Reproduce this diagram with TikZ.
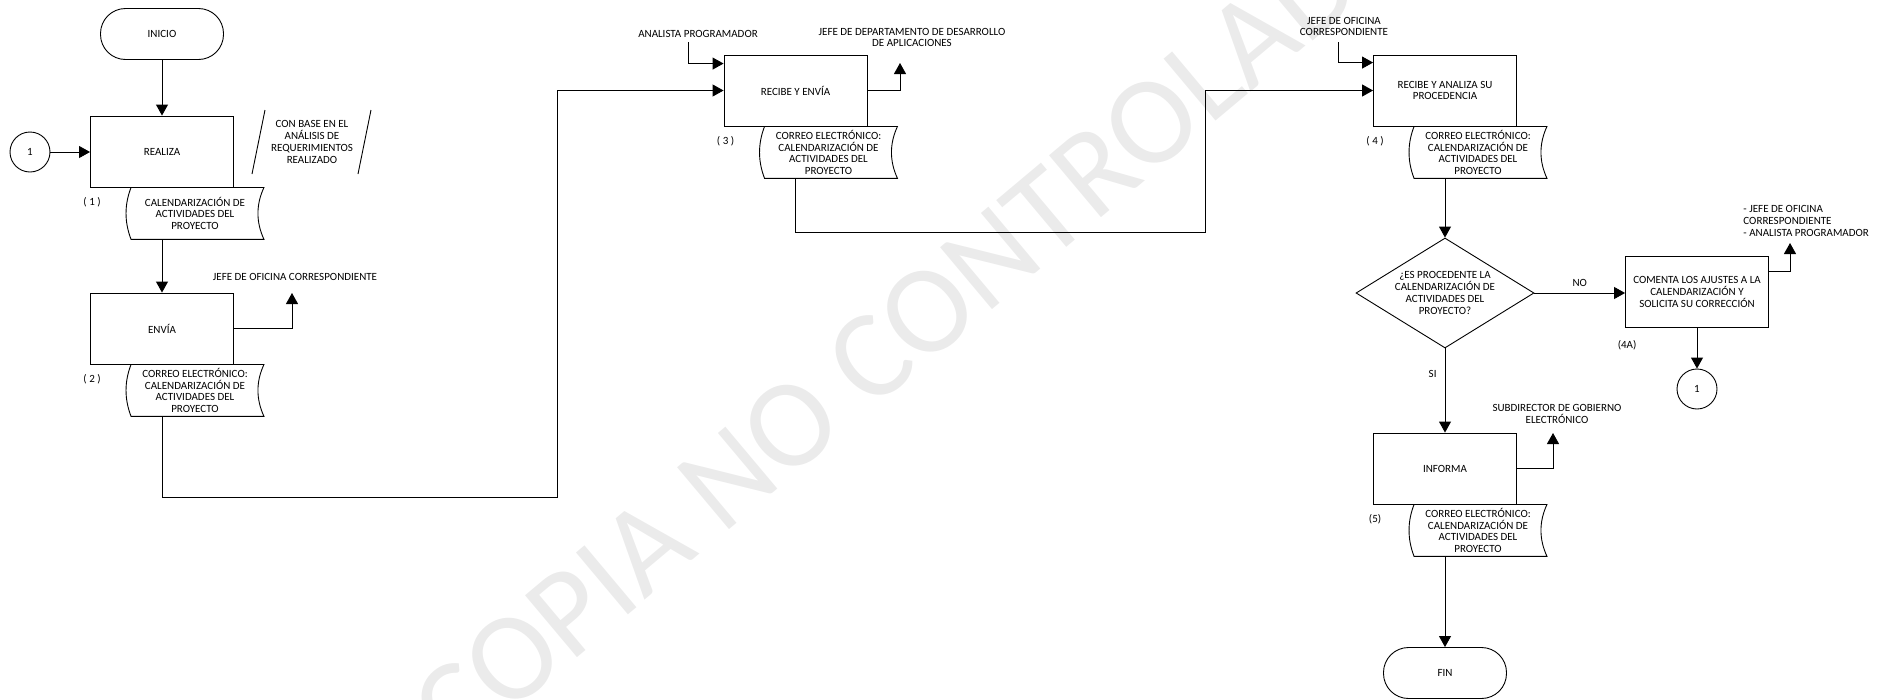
\documentclass[tikz,border=0pt]{standalone}
\usepackage{fontspec}
\setmainfont{Carlito}
\usetikzlibrary{arrows.meta,positioning,shapes.geometric}
\tikzset{
  proc/.style={draw, minimum width=143pt, minimum height=71pt, align=center, inner sep=2pt},
  term/.style={draw, rounded corners=25pt, minimum width=123pt, minimum height=51pt},
  conn/.style={draw, circle, minimum size=40pt, inner sep=0pt},
  decis/.style={draw, diamond, shape aspect=1.6, minimum width=178pt, minimum height=110pt, inner sep=0pt, align=center},
  docbox/.style={minimum width=137pt, minimum height=51pt, align=center, inner sep=0pt},
  tag/.style={align=center, inner sep=0pt},
  flow/.style={-{Triangle[length=11pt,width=12pt]}}
}
\newcommand{\docshape}[1]{%
  \draw ([xshift=5pt]#1.north west) -- (#1.north east)
    .. controls ([xshift=-8pt,yshift=-17.3pt]#1.north east) and ([xshift=-8pt,yshift=17.3pt]#1.south east) .. (#1.south east)
    -- ([xshift=5pt]#1.south west)
    .. controls ([xshift=-1.7pt,yshift=17.3pt]#1.south west) and ([xshift=-1.7pt,yshift=-17.3pt]#1.north west) .. cycle;}

\begin{document}
\begin{tikzpicture}[x=1pt, y=-1pt, line width=0.9pt, font=\fontsize{11}{11.7}\selectfont]
  \useasboundingbox (0,0) rectangle (1887,699);
  \begin{scope}
    \clip (0,0) rectangle (1887,699);
    \node[text=black!8, rotate=40, font=\fontsize{126}{126}\selectfont] (marca) at (912,324) {COPIA NO CONTROLADA};
  \end{scope}

  \node[term] (inicio) at (162,34) {INICIO};
  \node[proc] (realiza) at (162,151.5) {REALIZA};
  \node[conn] (c1) at (30,152) {1};
  \node[tag] (base) at (312,142) {CON BASE EN EL\\ANÁLISIS DE\\REQUERIMIENTOS\\REALIZADO};
  \draw ([shift={(-47,-32)}]base.center) -- ++(-13,64);
  \draw ([shift={(59,-32)}]base.center) -- ++(-13,64);
  \node[docbox, below=0pt of realiza, xshift=33pt] (doc1) {CALENDARIZACIÓN DE\\ACTIVIDADES DEL\\PROYECTO};
  \docshape{doc1}
  \node[tag, xshift=2pt, yshift=-15pt] (n1) at (realiza.south west) {( 1 )};

  \node[proc] (envia) at (162,328.5) {ENVÍA};
  \node[tag] (lbl2) at (295,277) {JEFE DE OFICINA CORRESPONDIENTE};
  \coordinate (out2) at (292,293);
  \node[docbox, below=0pt of envia, xshift=33pt] (doc2) {CORREO ELECTRÓNICO:\\CALENDARIZACIÓN DE\\ACTIVIDADES DEL\\PROYECTO};
  \docshape{doc2}
  \node[tag, xshift=2pt, yshift=-15pt] (n2) at (envia.south west) {( 2 )};
  \coordinate (jog1) at (557,497);

  \node[proc] (recibe) at (795.5,90.5) {RECIBE Y ENVÍA};
  \node[tag] (analista) at (698,34) {ANALISTA PROGRAMADOR};
  \node[tag] (jdd) at (912,37.5) {JEFE DE DEPARTAMENTO DE DESARROLLO\\DE APLICACIONES};
  \coordinate (out3) at (900,63);
  \node[docbox, below=0pt of recibe, xshift=33pt] (doc3) {CORREO ELECTRÓNICO:\\CALENDARIZACIÓN DE\\ACTIVIDADES DEL\\PROYECTO};
  \docshape{doc3}
  \node[tag, xshift=2pt, yshift=-15pt] (n3) at (recibe.south west) {( 3 )};
  \coordinate (jog2) at (1205,232);

  \node[proc] (analiza) at (1445,90.5) {RECIBE Y ANALIZA SU\\PROCEDENCIA};
  \node[tag] (jefe4) at (1344,26.5) {JEFE DE OFICINA\\CORRESPONDIENTE};
  \node[docbox, below=0pt of analiza, xshift=33pt] (doc4) {CORREO ELECTRÓNICO:\\CALENDARIZACIÓN DE\\ACTIVIDADES DEL\\PROYECTO};
  \docshape{doc4}
  \node[tag, xshift=2pt, yshift=-15pt] (n4) at (analiza.south west) {( 4 )};

  \node[decis] (decis) at (1445,293) {¿ES PROCEDENTE LA\\CALENDARIZACIÓN DE\\ACTIVIDADES DEL\\PROYECTO?};
  \node[proc] (box4a) at (1697,292) {COMENTA LOS AJUSTES A LA\\CALENDARIZACIÓN Y\\SOLICITA SU CORRECCIÓN};
  \node[tag, anchor=west, align=left] (lbl4a) at (1743,221) {- JEFE DE OFICINA\\CORRESPONDIENTE\\- ANALISTA PROGRAMADOR};
  \coordinate (out4a) at (1790,243);
  \node[tag, xshift=2pt, yshift=-17pt] (n4a) at (box4a.south west) {(4A)};
  \node[conn] (c2) at (1697,389) {1};

  \node[proc] (informa) at (1445,468.5) {INFORMA};
  \node[tag] (subdir) at (1557,414) {SUBDIRECTOR DE GOBIERNO\\ELECTRÓNICO};
  \coordinate (out5) at (1553,433);
  \node[docbox, below=0pt of informa, xshift=33pt] (doc5) {CORREO ELECTRÓNICO:\\CALENDARIZACIÓN DE\\ACTIVIDADES DEL\\PROYECTO};
  \docshape{doc5}
  \node[tag, xshift=2pt, yshift=-15pt] (n5) at (informa.south west) {(5)};
  \node[term] (fin) at (1445,673) {FIN};

  \draw[flow] (inicio) -- (realiza);
  \draw[flow] (c1.east) -- (c1.east -| realiza.west);
  \draw[flow] (realiza.south |- doc1.south) -- (envia);
  \draw[flow] (envia.east) -| (out2);
  \draw[flow] (envia.south |- doc2.south) |- (jog1) |- (recibe.west);
  \draw[flow] ([xshift=-10pt,yshift=-4pt]analista.south) |- ([yshift=-9pt]recibe.north west);
  \draw[flow] (recibe.east) -| (out3);
  \draw[flow] (recibe.south |- doc3.south) |- (jog2) |- (analiza.west);
  \draw[flow] ([xshift=-6pt,yshift=-6pt]jefe4.south) |- ([yshift=-8pt]analiza.north west);
  \draw[flow] (analiza.south |- doc4.south) -- (decis);
  \draw[flow] (decis.east) -- node[tag, above=6pt] (no) {NO} (decis.east -| box4a.west);
  \draw[flow] ([yshift=-15pt]box4a.north east) -| (out4a);
  \draw[flow] (box4a) -- (c2);
  \draw[flow] (decis) -- node[tag, left=8pt, pos=0.3] (si) {SI} (informa);
  \draw[flow] (informa.east) -| (out5);
  \draw[flow] (informa.south |- doc5.south) -- (fin);
\end{tikzpicture}
\end{document}
